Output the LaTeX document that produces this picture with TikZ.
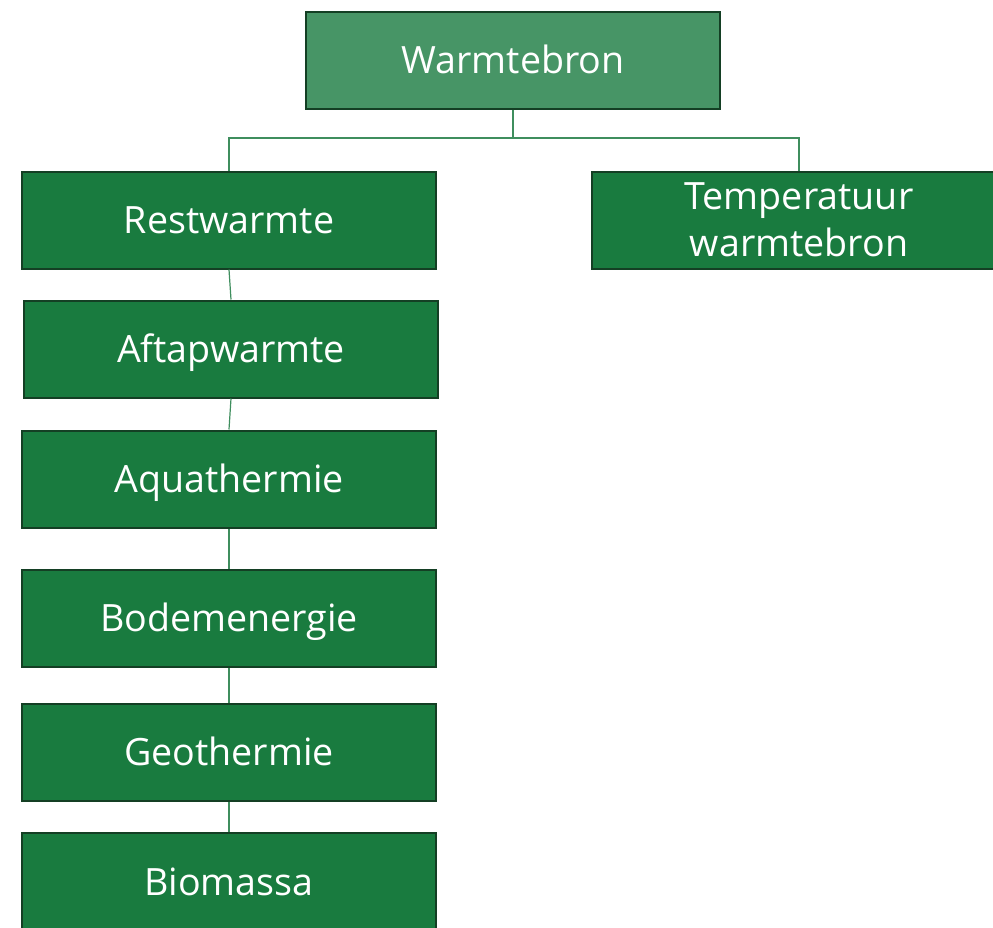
\documentclass[tikz,border=0pt]{standalone}
\usepackage{fontspec}
\setmainfont{Open Sans}
\definecolor{bronlicht}{HTML}{479566}
\definecolor{brongroen}{HTML}{197B3F}
\definecolor{randgroen}{HTML}{143F24}
\definecolor{lijngroen}{HTML}{3F8E5E}
\begin{document}
\begin{tikzpicture}[x=0.5pt, y=-0.5pt,
		box/.style={draw=randgroen, line width=1pt, fill=brongroen, text=white,
			minimum width=207pt, minimum height=48.5pt, inner sep=0pt, align=center,
			font=\fontsize{18.8}{23.5}\selectfont},
		enkel/.style={text height=13.5pt, text depth=0pt},
		lijn/.style={draw=lijngroen, line width=0.6pt}]

		\useasboundingbox (0,0) rectangle (993,928);
		\clip (0,0) rectangle (993,928);

		% Top node and second column
		\node[box, enkel, fill=bronlicht] (warmtebron) at (513,60) {Warmtebron};
		\node[box] (temperatuur) at (799,220) {Temperatuur\\warmtebron};

		% Left column, one box under the other
		\foreach \name/\x/\y/\tekst in {
				restwarmte/229/220/Restwarmte,
				aftapwarmte/231/349/Aftapwarmte,
				aquathermie/229/479/Aquathermie,
				bodemenergie/229/618/Bodemenergie,
				geothermie/229/752/Geothermie,
				biomassa/229/881.5/Biomassa} {
				\node[box, enkel] (\name) at (\x,\y) {\tekst};
			}

		% Connectors
		\coordinate (splitsing) at (513,138);
		\draw[lijn] (warmtebron.south) -- (splitsing) -| (restwarmte.north);
		\draw[lijn] (splitsing) -| (temperatuur.north);
		\foreach \van/\naar in {
				restwarmte/aftapwarmte,
				aftapwarmte/aquathermie,
				aquathermie/bodemenergie,
				bodemenergie/geothermie,
				geothermie/biomassa} {
				\draw[lijn] (\van.south) -- (\naar.north);
			}

	\end{tikzpicture}
\end{document}
